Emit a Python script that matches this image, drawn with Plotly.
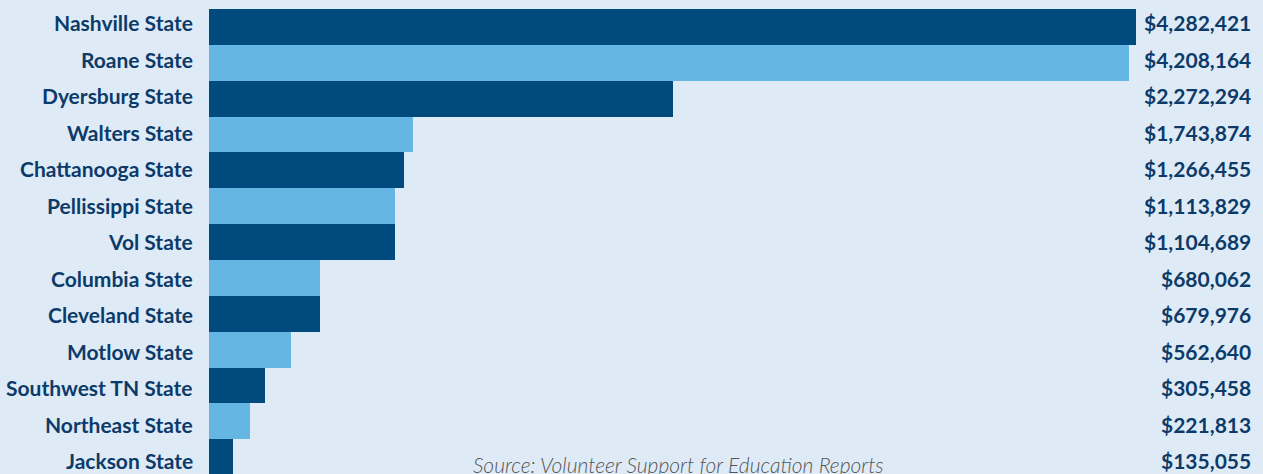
import plotly.graph_objects as go

# ---- data ----
colleges = ["Nashville State", "Roane State", "Dyersburg State", "Walters State",
            "Chattanooga State", "Pellissippi State", "Vol State", "Columbia State",
            "Cleveland State", "Motlow State", "Southwest TN State", "Northeast State",
            "Jackson State"]
value_labels = ["$4,282,421", "$4,208,164", "$2,272,294", "$1,743,874", "$1,266,455",
                "$1,113,829", "$1,104,689", "$680,062", "$679,976", "$562,640",
                "$305,458", "$221,813", "$135,055"]
# bar lengths as drawn in the picture (estimated, dollar-equivalent units)
bar_lengths = [4282421, 4250000, 2143500, 942400, 900800, 859300, 859300,
               512800, 512800, 378800, 258700, 189400, 110900]
source_text = "Source: Volunteer Support for Education Reports"

# ---- style ----
DARK = "#004a7e"
LIGHT = "#66b6e4"
BG = "#deebf7"
TEXT = "#0d3b69"
W, H = 1263, 474
ML, MR = 209, 10
plot_w = W - ML - MR
FS = 21

colors = [DARK if i % 2 == 0 else LIGHT for i in range(len(colleges))]

fig = go.Figure(go.Bar(
    x=bar_lengths, y=colleges, orientation="h",
    marker=dict(color=colors, line=dict(width=0)),
    hoverinfo="skip",
))

# bar rows
pitch = 35.85
first_center = 9 + pitch / 2
# label rows (slightly wider spacing in the original)
lab_pitch = 36.5
lab_first = 22.5

fig.update_layout(
    width=W, height=H,
    margin=dict(l=ML, r=MR, t=0, b=0, autoexpand=False),
    paper_bgcolor=BG, plot_bgcolor=BG,
    bargap=0,
    showlegend=False,
    xaxis=dict(range=[0, bar_lengths[0] * plot_w / 927], visible=False, fixedrange=True),
    yaxis=dict(
        type="category", range=[(H - first_center) / pitch, -first_center / pitch],
        showgrid=False, zeroline=False, showline=False, ticks="",
        showticklabels=False, automargin=False, fixedrange=True,
    ),
    yaxis2=dict(
        overlaying="y", side="left", visible=False, fixedrange=True,
        range=[(H - lab_first) / lab_pitch, -lab_first / lab_pitch],
    ),
)

lab_font = dict(family="Lato", size=FS, color=TEXT, weight="bold")
for i, (name, lab) in enumerate(zip(colleges, value_labels)):
    fig.add_annotation(
        x=0, xref="paper", xanchor="right", xshift=-14, y=i, yref="y2",
        yanchor="middle", text=name, showarrow=False, font=lab_font,
    )
    fig.add_annotation(
        x=1, xref="paper", xanchor="right", y=i, yref="y2", yanchor="middle",
        text=lab, showarrow=False, font=lab_font,
    )

fig.add_annotation(
    x=(678.5 - ML) / plot_w, xref="paper", xanchor="center",
    y=0, yref="paper", yanchor="middle", yshift=10,
    text=source_text, showarrow=False,
    font=dict(family="Lato", size=FS, color="#555555", weight=300, style="italic"),
)

fig.write_html("out.html", config={"displayModeBar": False})
